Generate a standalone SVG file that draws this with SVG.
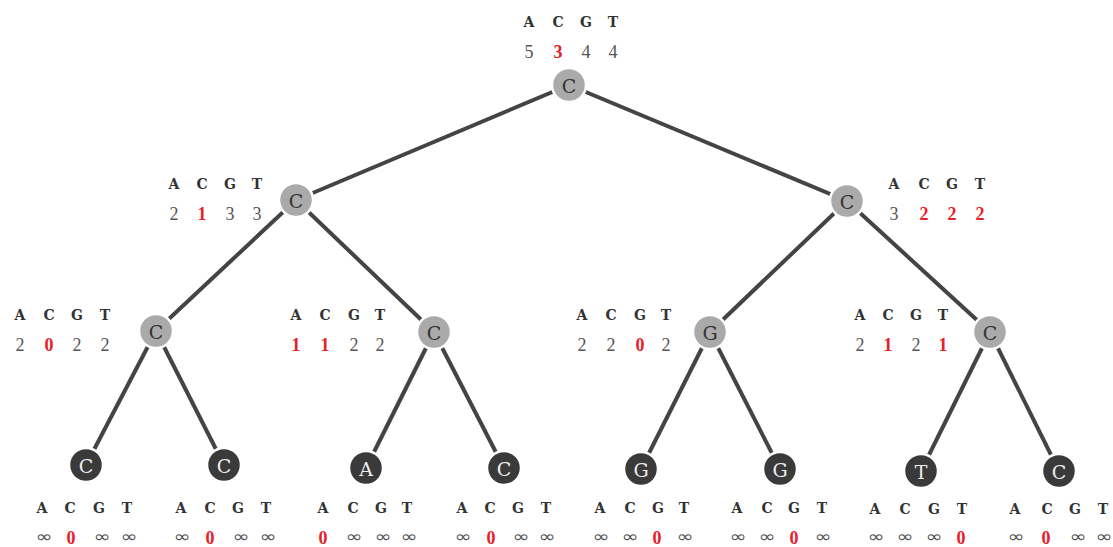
<svg xmlns="http://www.w3.org/2000/svg" width="1113" height="547" viewBox="0 0 1113 547">
  <style>
    .edge { stroke: #444; stroke-width: 4; stroke-linecap: butt; fill: none; }
    .inner circle { fill: #aaa; stroke: #fff; stroke-width: 2.5; }
    .inner .nl { fill: #333; }
    .leaf circle { fill: #3a3a3a; stroke: #fff; stroke-width: 2.5; }
    .leaf .nl { fill: #eee; }
    .nl { font-family: "DejaVu Serif", serif; font-size: 19px; text-anchor: middle; dominant-baseline: central; }
    .hd { font-family: "DejaVu Serif", serif; font-weight: bold; font-size: 14px; fill: #333; text-anchor: middle; }
    .n { font-family: "Liberation Serif", serif; font-size: 18px; fill: #555; text-anchor: middle; }
    .n.r { fill: #e8202a; font-weight: bold; }
    .inf { font-family: "DejaVu Sans", sans-serif; font-size: 16px; fill: #555; text-anchor: middle; }
  </style>

  <!-- tree edges -->
  <g id="edges">
    <line class="edge" x1="569" y1="85" x2="296" y2="200"/>
    <line class="edge" x1="569" y1="85" x2="847" y2="201"/>
    <line class="edge" x1="296" y1="200" x2="156" y2="331"/>
    <line class="edge" x1="296" y1="200" x2="434" y2="332"/>
    <line class="edge" x1="847" y1="201" x2="710" y2="332"/>
    <line class="edge" x1="847" y1="201" x2="990" y2="332"/>
    <line class="edge" x1="156" y1="331" x2="86" y2="465"/>
    <line class="edge" x1="156" y1="331" x2="224" y2="465"/>
    <line class="edge" x1="434" y1="332" x2="366" y2="468"/>
    <line class="edge" x1="434" y1="332" x2="504" y2="468"/>
    <line class="edge" x1="710" y1="332" x2="641" y2="469"/>
    <line class="edge" x1="710" y1="332" x2="780" y2="469"/>
    <line class="edge" x1="990" y1="332" x2="921" y2="471"/>
    <line class="edge" x1="990" y1="332" x2="1059" y2="471"/>
  </g>

  <!-- root -->
  <g id="root" class="inner">
    <circle cx="569" cy="85" r="17"/>
    <text class="nl" x="569" y="86">C</text>
    <text class="hd" x="529" y="27">A</text><text class="hd" x="558" y="27">C</text><text class="hd" x="586" y="27">G</text><text class="hd" x="613" y="27">T</text>
    <text class="n" x="529" y="58">5</text><text class="n r" x="558" y="58">3</text><text class="n" x="586" y="58">4</text><text class="n" x="613" y="58">4</text>
  </g>

  <!-- level 1 -->
  <g id="n1" class="inner">
    <circle cx="296" cy="200" r="17"/>
    <text class="nl" x="296" y="201">C</text>
    <text class="hd" x="174" y="189">A</text><text class="hd" x="202" y="189">C</text><text class="hd" x="230" y="189">G</text><text class="hd" x="257" y="189">T</text>
    <text class="n" x="174" y="220">2</text><text class="n r" x="202" y="220">1</text><text class="n" x="230" y="220">3</text><text class="n" x="257" y="220">3</text>
  </g>
  <g id="n2" class="inner">
    <circle cx="847" cy="201" r="17"/>
    <text class="nl" x="847" y="202">C</text>
    <text class="hd" x="894" y="189">A</text><text class="hd" x="924" y="189">C</text><text class="hd" x="952" y="189">G</text><text class="hd" x="980" y="189">T</text>
    <text class="n" x="894" y="220">3</text><text class="n r" x="924" y="220">2</text><text class="n r" x="952" y="220">2</text><text class="n r" x="980" y="220">2</text>
  </g>

  <!-- level 2 -->
  <g id="n3" class="inner">
    <circle cx="156" cy="331" r="17"/>
    <text class="nl" x="156" y="332">C</text>
    <text class="hd" x="20" y="320">A</text><text class="hd" x="49" y="320">C</text><text class="hd" x="77" y="320">G</text><text class="hd" x="105" y="320">T</text>
    <text class="n" x="20" y="351">2</text><text class="n r" x="49" y="351">0</text><text class="n" x="77" y="351">2</text><text class="n" x="105" y="351">2</text>
  </g>
  <g id="n4" class="inner">
    <circle cx="434" cy="332" r="17"/>
    <text class="nl" x="434" y="333">C</text>
    <text class="hd" x="296" y="320">A</text><text class="hd" x="325" y="320">C</text><text class="hd" x="354" y="320">G</text><text class="hd" x="380" y="320">T</text>
    <text class="n r" x="296" y="351">1</text><text class="n r" x="325" y="351">1</text><text class="n" x="354" y="351">2</text><text class="n" x="380" y="351">2</text>
  </g>
  <g id="n5" class="inner">
    <circle cx="710" cy="332" r="17"/>
    <text class="nl" x="710" y="333">G</text>
    <text class="hd" x="582" y="320">A</text><text class="hd" x="611" y="320">C</text><text class="hd" x="640" y="320">G</text><text class="hd" x="666" y="320">T</text>
    <text class="n" x="582" y="351">2</text><text class="n" x="611" y="351">2</text><text class="n r" x="640" y="351">0</text><text class="n" x="666" y="351">2</text>
  </g>
  <g id="n6" class="inner">
    <circle cx="990" cy="332" r="17"/>
    <text class="nl" x="990" y="333">C</text>
    <text class="hd" x="860" y="320">A</text><text class="hd" x="888" y="320">C</text><text class="hd" x="916" y="320">G</text><text class="hd" x="943" y="320">T</text>
    <text class="n" x="860" y="351">2</text><text class="n r" x="888" y="351">1</text><text class="n" x="916" y="351">2</text><text class="n r" x="943" y="351">1</text>
  </g>

  <!-- leaves -->
  <g id="l1" class="leaf">
    <circle cx="86" cy="465" r="17"/>
    <text class="nl" x="86" y="466">C</text>
    <text class="hd" x="42" y="513">A</text><text class="hd" x="70" y="513">C</text><text class="hd" x="99" y="513">G</text><text class="hd" x="127" y="513">T</text>
    <text class="inf" x="44" y="542" textLength="17" lengthAdjust="spacingAndGlyphs">∞</text><text class="n r" x="71" y="544">0</text><text class="inf" x="102" y="542" textLength="17" lengthAdjust="spacingAndGlyphs">∞</text><text class="inf" x="129" y="542" textLength="17" lengthAdjust="spacingAndGlyphs">∞</text>
  </g>
  <g id="l2" class="leaf">
    <circle cx="224" cy="465" r="17"/>
    <text class="nl" x="224" y="466">C</text>
    <text class="hd" x="181" y="513">A</text><text class="hd" x="210" y="513">C</text><text class="hd" x="238" y="513">G</text><text class="hd" x="266" y="513">T</text>
    <text class="inf" x="182" y="542" textLength="17" lengthAdjust="spacingAndGlyphs">∞</text><text class="n r" x="210" y="544">0</text><text class="inf" x="241" y="542" textLength="17" lengthAdjust="spacingAndGlyphs">∞</text><text class="inf" x="268" y="542" textLength="17" lengthAdjust="spacingAndGlyphs">∞</text>
  </g>
  <g id="l3" class="leaf">
    <circle cx="366" cy="468" r="17"/>
    <text class="nl" x="366" y="469">A</text>
    <text class="hd" x="323" y="513">A</text><text class="hd" x="353" y="513">C</text><text class="hd" x="381" y="513">G</text><text class="hd" x="407" y="513">T</text>
    <text class="n r" x="323" y="544">0</text><text class="inf" x="354" y="542" textLength="17" lengthAdjust="spacingAndGlyphs">∞</text><text class="inf" x="383" y="542" textLength="17" lengthAdjust="spacingAndGlyphs">∞</text><text class="inf" x="409" y="542" textLength="17" lengthAdjust="spacingAndGlyphs">∞</text>
  </g>
  <g id="l4" class="leaf">
    <circle cx="504" cy="468" r="17"/>
    <text class="nl" x="504" y="469">C</text>
    <text class="hd" x="462" y="513">A</text><text class="hd" x="490" y="513">C</text><text class="hd" x="518" y="513">G</text><text class="hd" x="546" y="513">T</text>
    <text class="inf" x="463" y="542" textLength="17" lengthAdjust="spacingAndGlyphs">∞</text><text class="n r" x="491" y="544">0</text><text class="inf" x="521" y="542" textLength="17" lengthAdjust="spacingAndGlyphs">∞</text><text class="inf" x="547" y="542" textLength="17" lengthAdjust="spacingAndGlyphs">∞</text>
  </g>
  <g id="l5" class="leaf">
    <circle cx="641" cy="469" r="17"/>
    <text class="nl" x="641" y="470">G</text>
    <text class="hd" x="600" y="513">A</text><text class="hd" x="630" y="513">C</text><text class="hd" x="658" y="513">G</text><text class="hd" x="684" y="513">T</text>
    <text class="inf" x="601" y="542" textLength="17" lengthAdjust="spacingAndGlyphs">∞</text><text class="inf" x="630" y="542" textLength="17" lengthAdjust="spacingAndGlyphs">∞</text><text class="n r" x="657" y="544">0</text><text class="inf" x="685" y="542" textLength="17" lengthAdjust="spacingAndGlyphs">∞</text>
  </g>
  <g id="l6" class="leaf">
    <circle cx="780" cy="469" r="17"/>
    <text class="nl" x="780" y="470">G</text>
    <text class="hd" x="737" y="513">A</text><text class="hd" x="767" y="513">C</text><text class="hd" x="794" y="513">G</text><text class="hd" x="822" y="513">T</text>
    <text class="inf" x="738" y="542" textLength="17" lengthAdjust="spacingAndGlyphs">∞</text><text class="inf" x="767" y="542" textLength="17" lengthAdjust="spacingAndGlyphs">∞</text><text class="n r" x="794" y="544">0</text><text class="inf" x="823" y="542" textLength="17" lengthAdjust="spacingAndGlyphs">∞</text>
  </g>
  <g id="l7" class="leaf">
    <circle cx="921" cy="471" r="17"/>
    <text class="nl" x="921" y="472">T</text>
    <text class="hd" x="875" y="514">A</text><text class="hd" x="905" y="514">C</text><text class="hd" x="934" y="514">G</text><text class="hd" x="962" y="514">T</text>
    <text class="inf" x="876" y="542" textLength="17" lengthAdjust="spacingAndGlyphs">∞</text><text class="inf" x="905" y="542" textLength="17" lengthAdjust="spacingAndGlyphs">∞</text><text class="inf" x="934" y="542" textLength="17" lengthAdjust="spacingAndGlyphs">∞</text><text class="n r" x="961" y="544">0</text>
  </g>
  <g id="l8" class="leaf">
    <circle cx="1059" cy="471" r="17"/>
    <text class="nl" x="1059" y="472">C</text>
    <text class="hd" x="1015" y="514">A</text><text class="hd" x="1047" y="514">C</text><text class="hd" x="1075" y="514">G</text><text class="hd" x="1103" y="514">T</text>
    <text class="inf" x="1016" y="542" textLength="17" lengthAdjust="spacingAndGlyphs">∞</text><text class="n r" x="1046" y="544">0</text><text class="inf" x="1078" y="542" textLength="17" lengthAdjust="spacingAndGlyphs">∞</text><text class="inf" x="1104" y="542" textLength="17" lengthAdjust="spacingAndGlyphs">∞</text>
  </g>
</svg>
